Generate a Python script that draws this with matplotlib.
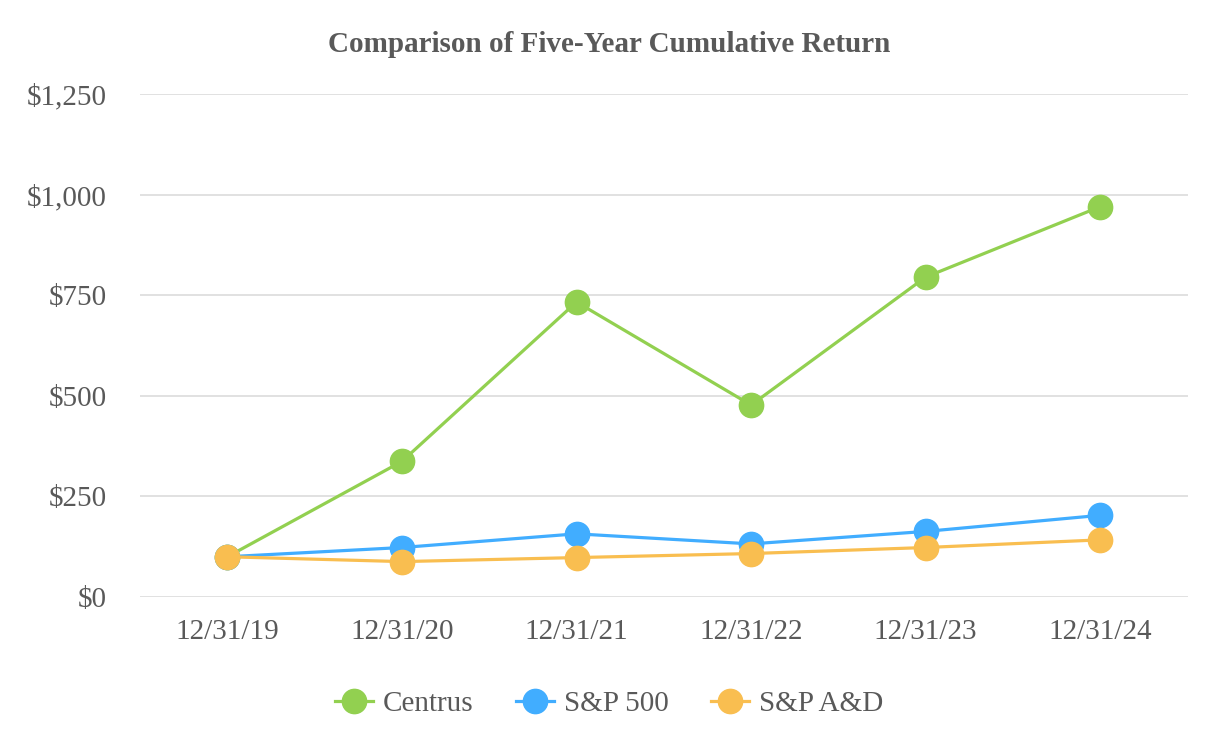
import matplotlib.pyplot as plt

dates = ["12/31/19", "12/31/20", "12/31/21", "12/31/22", "12/31/23", "12/31/24"]
centrus = [100, 337, 733, 477, 795, 970]
sp500 = [100, 123, 157, 132, 163, 203]
spad = [100, 88, 98, 108, 123, 142]
yticks = [0, 250, 500, 750, 1000, 1250]

plt.rcParams['font.family'] = ['Liberation Serif', 'DejaVu Serif']
textColor = '#595959'

fig = plt.figure(figsize=(12.18, 7.56), dpi=100)
ax = fig.add_axes([0.115, 0.2103, 0.86, 0.6654])

x = range(len(dates))
ax.plot(x, centrus, '-o', color='#92D050', lw=2.3, ms=17.5, label='Centrus', zorder=3)
ax.plot(x, sp500, '-o', color='#41ADFF', lw=2.3, ms=17.5, label='S&P 500', zorder=4)
ax.plot(x, spad, '-o', color='#F9BE50', lw=2.3, ms=17.5, label='S&P A&D', zorder=5)

ax.set_xlim(-0.5, 5.5)
ax.set_ylim(0, 1250)
ax.set_yticks(yticks)
ax.set_yticklabels(["${:,}".format(v) for v in yticks])
ax.set_xticks(list(x))
ax.set_xticklabels(dates)
ax.grid(axis='y', color='#DEDEDE', lw=1.3)
ax.set_axisbelow(True)
for s in ax.spines.values():
    s.set_visible(False)
ax.tick_params(length=0, labelsize=21, colors=textColor)
ax.tick_params(axis='x', pad=16)
ax.tick_params(axis='y', pad=24)

fig.text(0.5, 0.941, 'Comparison of Five-Year Cumulative Return', ha='center', va='center',
         fontsize=21, fontweight='bold', color=textColor)

leg = fig.legend(loc='center', bbox_to_anchor=(0.5, 0.069), ncol=3, frameon=False,
                 fontsize=21, labelcolor=textColor, handlelength=1.3, columnspacing=1.45,
                 handletextpad=0.35, markerscale=1.0)

fig.savefig('out.png', dpi=100)
